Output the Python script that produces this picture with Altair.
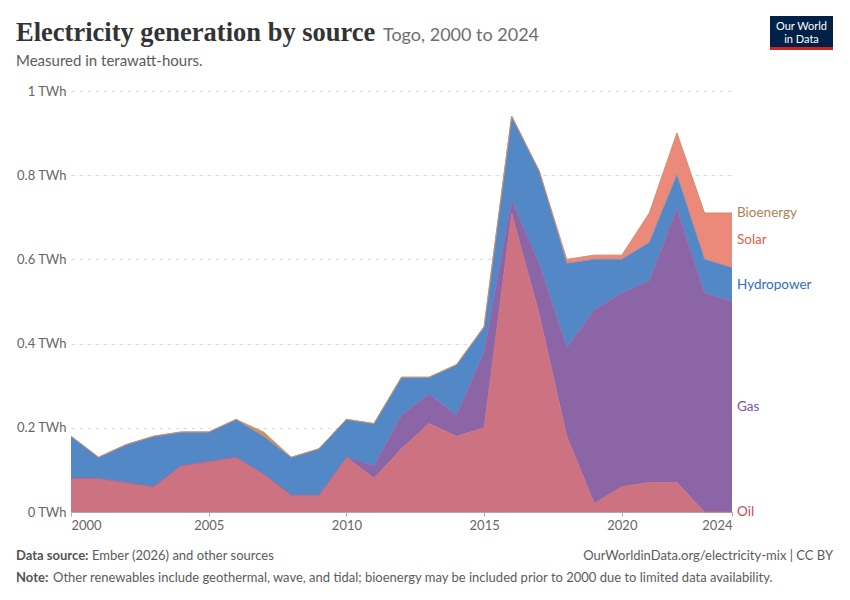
import altair as alt
import pandas as pd

years = list(range(2000, 2025))
oil = [0.08, 0.08, 0.07, 0.06, 0.11, 0.12, 0.13, 0.09, 0.04, 0.04, 0.13, 0.08, 0.15,
       0.21, 0.18, 0.20, 0.71, 0.47, 0.18, 0.02, 0.06, 0.07, 0.07, 0.0, 0.0]
gas = [0, 0, 0, 0, 0, 0, 0, 0, 0, 0, 0, 0.03, 0.08, 0.07, 0.05, 0.18, 0.03, 0.12,
       0.21, 0.46, 0.46, 0.48, 0.65, 0.52, 0.50]
hydro = [0.10, 0.05, 0.09, 0.12, 0.08, 0.07, 0.09, 0.09, 0.09, 0.11, 0.09, 0.10, 0.09,
         0.04, 0.12, 0.06, 0.20, 0.22, 0.20, 0.12, 0.08, 0.09, 0.08, 0.08, 0.08]
solar = [0, 0, 0, 0, 0, 0, 0, 0, 0, 0, 0, 0, 0, 0, 0, 0, 0, 0,
         0.01, 0.01, 0.01, 0.07, 0.10, 0.11, 0.13]
bioenergy = [0, 0, 0, 0, 0, 0, 0, 0.01, 0, 0, 0, 0, 0, 0, 0, 0, 0, 0,
             0, 0, 0, 0, 0, 0, 0]

sources = ["Oil", "Gas", "Hydropower", "Solar", "Bioenergy"]
series = [oil, gas, hydro, solar, bioenergy]
area_colors = ["#cc7280", "#8c65a7", "#5388c7", "#eb897a", "#c49462"]
label_colors = ["#cf3f5e", "#7e52a0", "#2f6dc0", "#e0614e", "#ad8152"]
x_ticks = [2000, 2005, 2010, 2015, 2020, 2024]
y_ticks = [0, 0.2, 0.4, 0.6, 0.8, 1.0]

rows = []
for i, (s, vals) in enumerate(zip(sources, series)):
    for yr, v in zip(years, vals):
        rows.append({"year": yr, "source": s, "value": v, "order": i})
df = pd.DataFrame(rows)

last = df[df.year == years[-1]].sort_values("order").copy()
cum = last["value"].cumsum()
last["mid"] = cum - last["value"] / 2
last["lcolor"] = [label_colors[i] for i in last["order"]]

FONT = "Lato"

x_enc = alt.X("year:Q", scale=alt.Scale(domain=[2000, 2024], nice=False, zero=False),
              axis=alt.Axis(values=x_ticks, format="d", title=None, grid=False,
                            labelFlush=True, labelFontSize=13, labelColor="#666",
                            labelFont=FONT, domainColor="#aaa", tickColor="#aaa",
                            tickSize=4, labelPadding=3))
y_enc = alt.Y("value:Q", stack="zero", scale=alt.Scale(domain=[0, 1], nice=False),
              axis=alt.Axis(values=y_ticks, title=None, domain=False, ticks=False,
                            labelExpr="datum.value + ' TWh'", labelFontSize=13,
                            labelColor="#666", labelFont=FONT, labelPadding=5,
                            grid=True, gridColor="#dddddd", gridDash=[4, 4]))

areas = alt.Chart(df).mark_area(
    opacity=1, line={"strokeWidth": 0.8, "opacity": 0.9}
).encode(
    x=x_enc,
    y=y_enc,
    color=alt.Color("source:N", scale=alt.Scale(domain=sources, range=area_colors), legend=None),
    order=alt.Order("order:Q", sort="ascending"),
)

labels = alt.Chart(last).mark_text(
    align="left", baseline="middle", dx=5, fontSize=13.5, font=FONT
).encode(
    x=alt.X("year:Q"),
    y=alt.Y("mid:Q"),
    text="source:N",
    color=alt.Color("lcolor:N", scale=None),
)

one = pd.DataFrame({"a": [0]})


def txt(text, x, y, size=13, color="#5b5b5b", weight="normal", font=FONT, align="left",
        baseline="alphabetic"):
    return alt.Chart(one).mark_text(
        text=text, align=align, baseline=baseline, fontSize=size, color=color,
        fontWeight=weight, font=font
    ).encode(x=alt.value(x), y=alt.value(y))


OX, OY = 71, 91  # plot origin in page coords
deco = [
    txt("Electricity generation by source", 16 - OX, 41 - OY, size=26.5,
        color="#333333", weight="bold", font="Liberation Serif"),
    txt("Togo, 2000 to 2024", 383 - OX, 41 - OY, size=18, color="#6e6e6e"),
    txt("Measured in terawatt-hours.", 16 - OX, 66 - OY, size=15, color="#5b5b5b"),
    txt("Data source:", 16 - OX, 560 - OY, size=13, color="#555", weight="bold"),
    txt("Ember (2026) and other sources", 92 - OX, 560 - OY, size=13),
    txt("OurWorldinData.org/electricity-mix | CC BY", 833 - OX, 560 - OY, size=13,
        align="right"),
    txt("Note:", 16 - OX, 582 - OY, size=13, color="#555", weight="bold"),
    txt("Other renewables include geothermal, wave, and tidal; bioenergy may be included "
        "prior to 2000 due to limited data availability.", 53 - OX, 582 - OY, size=13),
]

logo_bg = alt.Chart(one).mark_rect(color="#002147").encode(
    x=alt.value(770 - OX), x2=alt.value(833 - OX), y=alt.value(16 - OY), y2=alt.value(50 - OY))
logo_bar = alt.Chart(one).mark_rect(color="#ce261e").encode(
    x=alt.value(770 - OX), x2=alt.value(833 - OX), y=alt.value(47 - OY), y2=alt.value(50 - OY))
logo_t1 = txt("Our World", 801.5 - OX, 27 - OY, size=11, color="white", align="center",
              baseline="middle")
logo_t2 = txt("in Data", 801.5 - OX, 40 - OY, size=11, color="white", align="center",
              baseline="middle")

chart = alt.layer(areas, labels, *deco, logo_bg, logo_bar, logo_t1, logo_t2).resolve_scale(
    color="independent"
).properties(
    width=661, height=421,
    autosize=alt.AutoSizeParams(type="none"),
    padding={"left": OX - 8, "top": OY - 8, "right": 110, "bottom": 76},
    background="white",
).configure_view(stroke=None)

chart.save("out.html", embed_options={"renderer": "svg", "actions": False})
